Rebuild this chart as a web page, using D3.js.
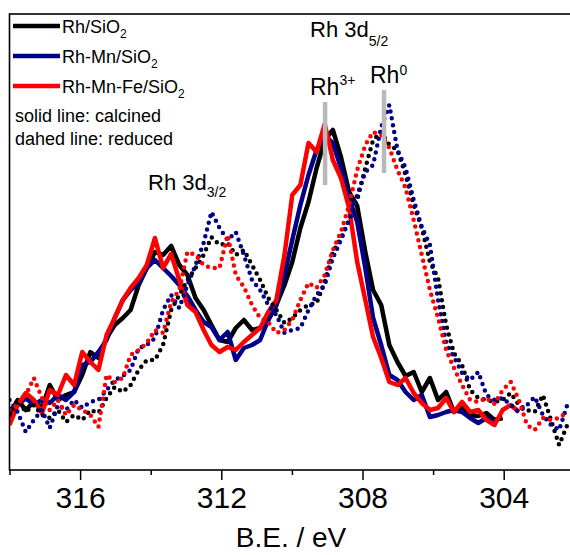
<!DOCTYPE html>
<html>
<head>
<meta charset="utf-8">
<script src="https://cdn.jsdelivr.net/npm/d3@7"></script>
<style>
  body { margin: 0; background: #fff; }
  svg { display: block; }
</style>
</head>
<body>
<script>
// ---------- data: Rh 3d XPS, binding energy in eV, intensity in a.u. ----------
var bindingEnergy = [318.00, 317.77, 317.54, 317.31, 317.08, 316.86, 316.63, 316.40, 316.17, 315.94,
  315.71, 315.48, 315.25, 315.02, 314.79, 314.57, 314.34, 314.11, 313.88, 313.65,
  313.42, 313.19, 312.96, 312.73, 312.50, 312.28, 312.05, 311.82, 311.59, 311.36,
  311.13, 310.90, 310.67, 310.44, 310.21, 309.99, 309.76, 309.53, 309.30, 309.07,
  308.84, 308.61, 308.38, 308.15, 307.92, 307.70, 307.47, 307.24, 307.01, 306.78,
  306.55, 306.32, 306.09, 305.86, 305.63, 305.41, 305.18, 304.95, 304.72, 304.49,
  304.26, 304.03, 303.80, 303.57, 303.34, 303.12, 302.89, 302.66, 302.43, 302.20]

// calcined (solid lines)
var rhCalcined = [5.2, 6.7, 5.7, 6.5, 5.9, 8.2, 6.7, 7.2, 7.5, 9.2,
  11.5, 10.9, 12.9, 14.2, 14.9, 15.7, 18.2, 19.9, 21.5, 21.2,
  22.1, 20.2, 19.2, 16.9, 15.7, 14.2, 12.7, 12.5, 13.9, 14.7,
  13.7, 13.9, 14.7, 16.2, 18.2, 20.5, 23.9, 26.5, 29.9, 32.7,
  33.7, 31.0, 27.5, 26.1, 21.5, 17.7, 16.2, 12.2, 10.5, 9.1,
  9.5, 7.5, 8.9, 6.7, 7.5, 5.5, 5.9, 5.2, 5.1, 5.4, 4.7, 4.9]
var rhMnCalcined = [5.7, 6.2, 6.9, 6.2, 6.7, 6.4, 7.2, 6.7, 7.5, 10.2,
  10.5, 11.5, 12.7, 14.9, 16.7, 17.7, 18.4, 19.9, 20.7, 19.9,
  19.1, 18.2, 17.1, 15.7, 14.5, 14.0, 12.7, 13.5, 10.7, 11.9,
  12.2, 12.7, 14.7, 16.2, 19.2, 22.7, 26.2, 29.2, 31.7, 33.2,
  32.4, 29.9, 26.9, 24.5, 19.9, 14.9, 12.2, 9.2, 8.7, 7.5,
  6.7, 7.2, 5.0, 5.2, 5.5, 5.7, 5.5, 4.9, 4.4, 4.9, 4.5]
var rhMnFeCalcined = [4.2, 6.2, 7.4, 6.7, 5.4, 7.7, 7.2, 9.2, 8.2, 11.5,
  10.5, 9.7, 13.2, 14.9, 16.7, 17.9, 18.9, 20.2, 22.9, 19.9,
  21.3, 18.7, 16.2, 15.5, 13.7, 12.2, 11.5, 12.0, 11.7, 12.5,
  13.2, 13.9, 15.5, 16.7, 21.2, 27.2, 28.2, 32.4, 31.5, 34.3,
  30.7, 28.9, 25.9, 20.5, 16.7, 13.0, 10.9, 8.5, 8.2, 8.9,
  7.4, 6.4, 5.7, 5.9, 6.9, 5.5, 6.5, 5.5, 5.7, 4.7,
  4.2, 5.7, 6.2, 5.5]

// reduced (dotted lines)
var rhReduced = [5.2, 6.7, 5.5, 6.2, 5.2, 4.9, 5.7, 4.5, 5.2, 4.7,
  5.7, 5.4, 6.9, 8.0, 7.5, 8.2, 9.7, 10.7, 10.7, 12.2,
  15.7, 17.2, 18.7, 19.9, 21.2, 23.0, 22.2, 22.4, 21.2, 21.7,
  20.2, 18.7, 16.9, 15.7, 14.4, 14.9, 15.7, 16.2, 16.4, 18.5,
  21.5, 22.9, 24.7, 26.7, 29.9, 32.7, 33.5, 32.2, 31.7, 29.2,
  26.2, 23.9, 20.5, 18.9, 14.2, 11.4, 10.2, 7.7, 6.9, 6.7,
  6.5, 6.7, 7.4, 6.2, 5.7, 5.5, 7.2, 4.7, 2.2, 4.2]
var rhMnReduced = [6.7, 5.5, 3.5, 4.7, 5.7, 3.9, 6.2, 5.7, 6.7, 5.9,
  6.5, 6.7, 7.7, 8.7, 9.1, 9.7, 11.9, 12.2, 12.9, 15.7,
  17.2, 15.9, 18.2, 20.2, 22.4, 25.5, 23.9, 22.7, 23.5, 21.2,
  18.7, 17.7, 16.2, 15.2, 13.4, 13.7, 13.9, 15.7, 17.2, 18.2,
  20.9, 22.7, 24.7, 27.2, 29.5, 30.2, 34.0, 36.2, 31.7, 29.9,
  26.7, 24.0, 22.2, 16.7, 12.4, 11.0, 9.4, 8.7, 9.5, 7.2,
  6.7, 6.9, 6.2, 5.5, 6.2, 7.0, 5.2, 4.2, 3.7, 6.2]
var rhMnFeReduced = [5.7, 6.2, 7.2, 8.9, 6.9, 5.7, 6.7, 5.2, 6.2, 5.7,
  5.2, 4.0, 9.2, 8.5, 8.9, 11.2, 11.7, 12.4, 13.7, 13.4,
  16.5, 17.7, 21.5, 21.2, 20.2, 19.9, 19.9, 23.2, 19.2, 18.0,
  16.2, 14.9, 14.5, 13.4, 13.7, 14.7, 16.7, 18.4, 17.9, 19.2,
  21.7, 23.5, 26.2, 29.7, 32.2, 33.5, 33.2, 31.9, 29.7, 27.9,
  24.7, 21.2, 17.7, 14.9, 11.7, 9.9, 8.2, 6.7, 6.5, 6.9,
  6.3, 7.7, 8.5, 6.7, 4.2, 3.7, 4.9, 4.7, 4.9, 5.5]

var sampleNames = [["Rh/SiO", "2"], ["Rh-Mn/SiO", "2"], ["Rh-Mn-Fe/SiO", "2"]]
var sampleColors = ["#000000", "#00008b", "#ff0000"]
var majorTicks = [316, 312, 308, 304]
var minorTicks = [318, 314, 310, 306, 302]
// reference positions of Rh3+ and Rh0 (eV) with bar extent (a.u.)
var peakMarks = [{e: 309.06, top: 36.5, bottom: 28.2}, {e: 307.39, top: 37.7, bottom: 29.4}]

var calcined = [rhCalcined, rhMnCalcined, rhMnFeCalcined]
var reduced = [rhReduced, rhMnReduced, rhMnFeReduced]

var width = 570, height = 555
var font = "Liberation Sans, Arial, Helvetica, sans-serif"

var svg = d3.select("body").append("svg")
  .attr("width", width)
  .attr("height", height)

var x = d3.scaleLinear().domain([318, 302]).range([9.5, 574.3])
var y = d3.scaleLinear().domain([-0.3, 45.3]).range([470, 14])

svg.append("clipPath").attr("id", "plot-clip")
  .append("rect")
  .attr("x", x(318))
  .attr("y", y(45.3))
  .attr("width", x(302) - x(318))
  .attr("height", y(-0.3) - y(45.3))

// *********** AXIS ***************** //
svg.append("g")
  .attr("transform", "translate(0," + y(-0.3) + ")")
  .call(d3.axisBottom(x).tickValues(minorTicks).tickSize(5).tickFormat(""))
  .call(g => g.select(".domain").remove())
  .call(g => g.selectAll("line").attr("stroke", "#000").attr("stroke-width", 1.5))

svg.append("g")
  .attr("transform", "translate(0," + y(-0.3) + ")")
  .call(d3.axisBottom(x).tickValues(majorTicks).tickSize(10).tickPadding(7).tickFormat(d3.format("d")))
  .call(g => g.select(".domain").remove())
  .call(g => g.selectAll("line").attr("stroke", "#000").attr("stroke-width", 1.5))
  .call(g => g.selectAll("text")
    .style("font-family", font)
    .style("font-size", "30px")
    .attr("fill", "#000"))

svg.append("text")
  .attr("x", 291)
  .attr("y", 547)
  .attr("text-anchor", "middle")
  .style("font-family", font)
  .style("font-size", "28px")
  .text("B.E. / eV")
// *********** END AXIS ************* //

// *********** SPECTRA ***************** //
var plot = svg.append("g").attr("clip-path", "url(#plot-clip)")

var line = d3.line()
  .x((d, i) => x(bindingEnergy[i]))
  .y(d => y(d))

calcined.forEach(function(series, i) {
  plot.append("path")
    .datum(series)
    .attr("fill", "none")
    .attr("stroke", sampleColors[i])
    .attr("stroke-width", 4.5)
    .attr("stroke-linejoin", "round")
    .attr("d", line)
})

reduced.forEach(function(series, i) {
  plot.append("path")
    .datum(series)
    .attr("fill", "none")
    .attr("stroke", sampleColors[i])
    .attr("stroke-width", 4.5)
    .attr("stroke-linecap", "round")
    .attr("stroke-dasharray", "0 7")
    .attr("d", line)
})

// grey marks for Rh3+ / Rh0
plot.selectAll(".peak-mark")
  .data(peakMarks)
  .enter().append("line")
  .attr("class", "peak-mark")
  .attr("x1", d => x(d.e))
  .attr("x2", d => x(d.e))
  .attr("y1", d => y(d.top))
  .attr("y2", d => y(d.bottom))
  .attr("stroke", "#b9b9b9")
  .attr("stroke-width", 4.5)
// *********** END SPECTRA ************* //

// frame
svg.append("rect")
  .attr("x", x(318))
  .attr("y", y(45.3))
  .attr("width", x(302) - x(318))
  .attr("height", y(-0.3) - y(45.3))
  .attr("fill", "none")
  .attr("stroke", "#000")
  .attr("stroke-width", 1.6)

// *********** ANNOTATIONS ***************** //
function label(px, py, main, small, shift, size) {
  var t = svg.append("text")
    .attr("x", px)
    .attr("y", py)
    .style("font-family", font)
    .style("font-size", size + "px")
  t.append("tspan").text(main)
  t.append("tspan")
    .attr("dy", shift)
    .style("font-size", "14px")
    .text(small)
  return t
}

label(148, 190, "Rh 3d", "3/2", 7, 22)
label(310, 37, "Rh 3d", "5/2", 9, 22)
label(310, 95, "Rh", "3+", -10, 23)
label(370, 83, "Rh", "0", -8, 23)
// *********** END ANNOTATIONS ************* //

// *********** LEGEND ***************** //
var legend = svg.append("g")

sampleNames.forEach(function(name, i) {
  var ly = 26 + i * 30
  legend.append("line")
    .attr("x1", 13)
    .attr("x2", 60)
    .attr("y1", ly)
    .attr("y2", ly)
    .attr("stroke", sampleColors[i])
    .attr("stroke-width", 4.5)
  var t = legend.append("text")
    .attr("x", 62)
    .attr("y", ly + 6.5)
    .style("font-family", font)
    .style("font-size", "18px")
  t.append("tspan").text(name[0])
  t.append("tspan")
    .attr("dy", 5)
    .style("font-size", "12px")
    .text(name[1])
})

legend.append("text")
  .attr("x", 15)
  .attr("y", 122)
  .style("font-family", font)
  .style("font-size", "18px")
  .text("solid line: calcined")

legend.append("text")
  .attr("x", 15)
  .attr("y", 145)
  .style("font-family", font)
  .style("font-size", "18px")
  .text("dahed line: reduced")
// *********** END LEGEND ************* //
</script>
</body>
</html>
